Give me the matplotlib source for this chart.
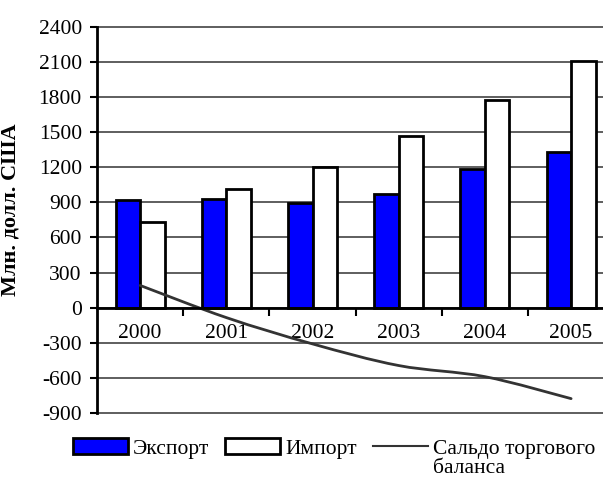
import numpy as np
import matplotlib
matplotlib.use("Agg")
import matplotlib.pyplot as plt
from matplotlib.path import Path
from matplotlib.patches import PathPatch, Patch
from matplotlib.lines import Line2D

plt.rcParams['font.family'] = ['Liberation Serif', 'DejaVu Serif']
plt.rcParams['axes.unicode_minus'] = False

years = ['2000', '2001', '2002', '2003', '2004', '2005']
export = [920, 930, 895, 975, 1188, 1333]
imports = [735, 1015, 1205, 1470, 1778, 2110]
balance = [190, -85, -310, -495, -590, -778]


def smooth_path(xs, ys, t=1 / 6):
    # Excel-like smoothed line: Catmull-Rom converted to cubic Bezier segments
    pts = np.column_stack([xs, ys]).astype(float)
    verts = [pts[0]]
    codes = [Path.MOVETO]
    n = len(pts)
    for i in range(n - 1):
        p0 = pts[i - 1] if i > 0 else pts[i]
        p1, p2 = pts[i], pts[i + 1]
        p3 = pts[i + 2] if i + 2 < n else pts[i + 1]
        c1 = p1 + (p2 - p0) * t
        c2 = p2 - (p3 - p1) * t
        verts += [c1, c2, p2]
        codes += [Path.CURVE4] * 3
    return Path(verts, codes)


fig = plt.figure(figsize=(6.03, 4.79), dpi=100)
ax = fig.add_axes([0.161, 0.138, 0.839, 0.8056])

x = np.arange(len(years))
w = 0.285
ax.bar(x - w / 2, export, w, color='#0000ff', edgecolor='black', linewidth=2, zorder=3)
ax.bar(x + w / 2, imports, w, color='white', edgecolor='black', linewidth=2, zorder=3)

line = PathPatch(smooth_path(x, balance), fill=False, edgecolor='#333333',
                 linewidth=2, transform=ax.transData, zorder=4, capstyle='round')
ax.add_patch(line)

ax.set_ylim(-900, 2400)
ax.set_xlim(-0.5, 5.37)
ax.set_yticks(np.arange(-900, 2401, 300))
ax.tick_params(axis='y', labelsize=15.5, length=5, width=1.5, direction='out', pad=6)
ax.yaxis.grid(True, color='#333333', linewidth=1.1)
ax.set_axisbelow(True)
for gl in ax.get_ygridlines():
    gl.set_clip_on(False)

for s in ['top', 'right']:
    ax.spines[s].set_visible(False)
ax.spines['left'].set_linewidth(2)
ax.spines['bottom'].set_position(('data', 0))
ax.spines['bottom'].set_linewidth(2)
ax.spines['bottom'].set_zorder(5)

ax.set_xticks(np.arange(0.5, 5.5, 1))
ax.set_xticklabels([])
ax.set_xticks(x, minor=True)
ax.set_xticklabels(years, minor=True)
ax.tick_params(axis='x', which='major', length=6, width=1.5, direction='out')
ax.tick_params(axis='x', which='minor', length=0, labelsize=15.5, pad=12)

ax.set_ylabel('Млн. долл. США', fontsize=16, fontweight='bold')
ax.yaxis.set_label_coords(-0.152, 0.526)

handles = [Patch(facecolor='#0000ff', edgecolor='black', linewidth=2),
           Patch(facecolor='white', edgecolor='black', linewidth=2),
           Line2D([], [], color='#333333', linewidth=1.5)]
labels = ['Экспорт', 'Импорт', 'Сальдо торгового']
leg = fig.legend(handles, labels, loc='upper left', bbox_to_anchor=(0.121, 0.085),
                 ncol=3, frameon=False, fontsize=15.5, handlelength=2.56,
                 handleheight=0.75, handletextpad=0.22, columnspacing=0.75,
                 borderpad=0, labelspacing=0, borderaxespad=0)

# second line of the balance label, under the first one
fig.canvas.draw()
bb = leg.get_texts()[2].get_window_extent().transformed(fig.transFigure.inverted())
fig.text(bb.x0, bb.y0 - 0.001, 'баланса', fontsize=15.5, ha='left', va='top')

fig.savefig('out.png', dpi=100)
